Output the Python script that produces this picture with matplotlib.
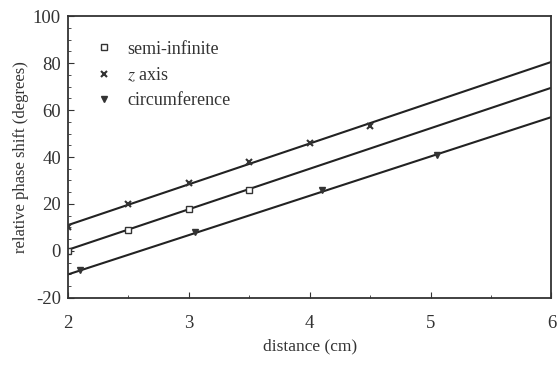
import numpy as np
import matplotlib
matplotlib.use('Agg')
import matplotlib.pyplot as plt
from matplotlib.ticker import MultipleLocator

plt.rcParams['font.family'] = ['Liberation Serif', 'DejaVu Serif']
plt.rcParams['mathtext.fontset'] = 'stix'
plt.rcParams['axes.unicode_minus'] = False

# measured points
semi_x = [2.0, 2.5, 3.0, 3.5]
semi_y = [0, 9, 18, 26]
z_x = [2.0, 2.5, 3.0, 3.5, 4.0, 4.5]
z_y = [10, 20, 29, 38, 46, 53]
circ_x = [2.1, 3.05, 4.1, 5.05]
circ_y = [-8, 8, 26, 41]

# fitted lines (end values at x=2 and x=6)
fit_x = [2, 6]
semi_fit = [0.5, 69.5]
z_fit = [11, 80.5]
circ_fit = [-10, 57]

fig = plt.figure(figsize=(5.57, 3.66), dpi=100)
ax = fig.add_axes([0.122, 0.186, 0.868, 0.770])

ax.plot(fit_x, z_fit, '-', color='#222222', lw=1.5)
ax.plot(fit_x, semi_fit, '-', color='#222222', lw=1.5)
ax.plot(fit_x, circ_fit, '-', color='#222222', lw=1.5)

ax.plot(semi_x, semi_y, 's', mfc='white', mec='#333333', ms=5, mew=1, label='semi-infinite', linestyle='none')
ax.plot(z_x, z_y, 'x', color='#333333', ms=4.5, mew=1.5, label='z axis', linestyle='none')
ax.plot(circ_x, circ_y, 'v', color='#333333', ms=4.5, label='circumference', linestyle='none')

ax.set_xlim(2, 6)
ax.set_ylim(-20, 100)
ax.xaxis.set_major_locator(MultipleLocator(1))
ax.xaxis.set_minor_locator(MultipleLocator(0.5))
ax.yaxis.set_major_locator(MultipleLocator(20))
ax.yaxis.set_minor_locator(MultipleLocator(5))
ax.tick_params(direction='in', which='both', top=False, right=False, labelsize=13.5, colors='#333333')
ax.tick_params(which='major', length=4)
ax.tick_params(which='minor', length=2)
ax.tick_params(axis='x', pad=12)
ax.tick_params(axis='y', pad=5)

for s in ax.spines.values():
    s.set_color('#333333')
    s.set_linewidth(1.3)

ax.set_xlabel('distance (cm)', fontsize=12.5, color='#333333', labelpad=5)
ax.set_ylabel('relative phase shift (degrees)', fontsize=12, color='#333333', labelpad=3)

handles, labels = ax.get_legend_handles_labels()
labels = ['semi-infinite', r'$z$ axis', 'circumference']
leg = ax.legend(handles, labels, loc='upper left', frameon=False, fontsize=13,
                bbox_to_anchor=(0.025, 0.97), handlelength=0.8, handletextpad=0.9,
                labelspacing=0.45)
for t in leg.get_texts():
    t.set_color('#333333')

fig.savefig('out.png', dpi=100)
